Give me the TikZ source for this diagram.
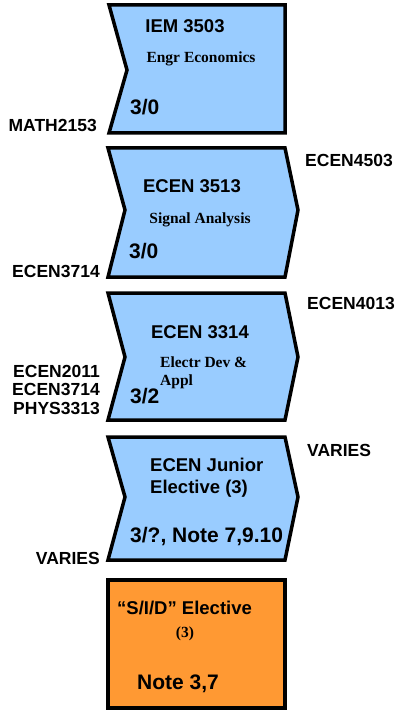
\documentclass[tikz,border=0pt]{standalone}
\usepackage{fontspec}
\setmainfont{Liberation Serif}
\setsansfont{Liberation Sans}
\usepackage{xcolor}
\usepackage{tikz}
\usetikzlibrary{positioning}
\definecolor{courseblue}{HTML}{99CCFF}
\definecolor{electorange}{HTML}{FF9933}

\begin{document}
\begin{tikzpicture} [x=1pt, y=-1pt, line join=miter,
        course/.style = {draw, line width=3.5pt, fill=courseblue},
        elect/.style = {draw, line width=3.5pt, fill=electorange},
        req/.style = {font=\sffamily\bfseries\fontsize{17.5}{19}\selectfont, inner sep=0pt},
        title/.style = {font=\sffamily\bfseries\fontsize{18.5}{21}\selectfont, inner sep=0pt, anchor=base},
        sub/.style = {font=\rmfamily\bfseries\fontsize{15.5}{18}\selectfont, inner sep=0pt, anchor=base},
        hours/.style = {font=\sffamily\bfseries\fontsize{21}{24}\selectfont, inner sep=0pt, anchor=base west}]

        \useasboundingbox (0,0) rectangle (400,711);

        % course boxes
        \draw [course] (109,5) -- (285,5) -- (285,133) -- (109,133) -- (127,70) -- cycle;
        \draw [course] (108,148) -- (285,148) -- (298,210) -- (285,277) -- (108,277) -- (125,210) -- cycle;
        \draw [course] (108,293) -- (285,293) -- (298,357) -- (285,420) -- (108,420) -- (125,357) -- cycle;
        \draw [course] (108,437) -- (285,437) -- (298,497) -- (285,560) -- (108,560) -- (125,497) -- cycle;
        \draw [elect] (108,580) rectangle (285,708);

        \node (iem) [title] at (185,33) {IEM 3503}; \node (iemsub) [sub] at (201,63) {Engr Economics};
        \node (iemhr) [hours] at (130,115) {3/0};

        \node (sig) [title] at (192,193) {ECEN 3513}; \node (sigsub) [sub] at (200,223) {Signal Analysis};
        \node (sighr) [hours] at (129,258) {3/0};

        \node (dev) [title] at (200,338) {ECEN 3314};
        \node (devsub) [sub, anchor=base west] at (160,367) {Electr Dev \&};
        \node (devsubb) [sub, anchor=base west] at (160,385) {Appl};
        \node (devhr) [hours] at (130,403) {3/2};

        \node (jr) [title, anchor=base west] at (150,471) {ECEN Junior};
        \node (jrb) [title, anchor=base west] at (150,493) {Elective (3)};
        \node (jrhr) [hours] at (130,542) {3/?, Note 7,9.10};

        \node (sid) [title, anchor=base west] at (117,614) {“S/I/D” Elective};
        \node (sidsub) [sub] at (185,637) {(3)};
        \node (sidnote) [hours] at (137,689) {Note 3,7};

        % prerequisites and follow-ups
        \node (math) [req, anchor=east] at (97,125) {MATH2153};
        \node (sigpre) [req, anchor=east] at (100,271) {ECEN3714};
        \node (devpa) [req, anchor=east] at (100,371) {ECEN2011};
        \node (devpb) [req, below = 6pt of devpa.south east, anchor=north east] {ECEN3714};
        \node (devpc) [req, below = 6pt of devpb.south east, anchor=north east] {PHYS3313};
        \node (jrpre) [req, anchor=east] at (100,558) {VARIES};

        \node (signext) [req, anchor=west] at (305,160) {ECEN4503};
        \node (devnext) [req, anchor=west] at (307,303) {ECEN4013};
        \node (jrnext) [req, anchor=west] at (307,450) {VARIES};

\end{tikzpicture}
\end{document}
